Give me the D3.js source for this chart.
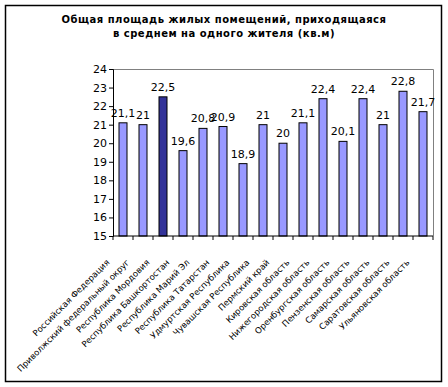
<!DOCTYPE html>
<html>
<head>
<meta charset="utf-8">
<script src="https://cdn.jsdelivr.net/npm/d3@7"></script>
<style>
  body { margin: 0; background: #fff; }
  text { font-family: "DejaVu Sans", Verdana, sans-serif; }
</style>
</head>
<body>
<div id="chart"></div>
<script>
// regions and values (кв.м на жителя)
var regions = [
    "Российская Федерация",
    "Приволжский федеральный округ",
    "Республика Мордовия",
    "Республика Башкортостан",
    "Республика Марий Эл",
    "Республика Татарстан",
    "Удмуртская Республика",
    "Чувашская Республика",
    "Пермский край",
    "Кировская область",
    "Нижегородская область",
    "Оренбургская область",
    "Пензенская область",
    "Самарская область",
    "Саратовская область",
    "Ульяновская область"
];
var values = [21.1, 21, 22.5, 19.6, 20.8, 20.9, 18.9, 21, 20, 21.1, 22.4, 20.1, 22.4, 21, 22.8, 21.7];
var highlighted = "Республика Мордовия";
var yTicks = [15, 16, 17, 18, 19, 20, 21, 22, 23, 24];
var titleLines = ["Общая площадь жилых помещений, приходящаяся", "в среднем на одного жителя (кв.м)"];

var W = 448, H = 387;
var margin = {top: 69, right: 15, bottom: 151, left: 113};
var width = 433 - margin.left;
var height = 236 - margin.top;

var svg = d3.select("#chart").append("svg")
    .attr("width", W)
    .attr("height", H);

// outer frame
svg.append("rect")
    .attr("x", 5.5).attr("y", 5.5)
    .attr("width", 436).attr("height", 376)
    .attr("fill", "#fff")
    .attr("stroke", "#000")
    .attr("stroke-width", 1.5);

svg.append("g")
    .selectAll("text")
    .data(titleLines)
    .enter().append("text")
    .attr("x", 224)
    .attr("y", (d, i) => 23 + i * 14)
    .attr("text-anchor", "middle")
    .attr("font-size", "10px")
    .attr("font-weight", "bold")
    .attr("letter-spacing", "0.5px")
    .text(d => d);

var plot = svg.append("g")
    .attr("transform", `translate(${margin.left},${margin.top})`);

var x = d3.scaleBand().domain(regions).range([0, width]).paddingInner(0.6).paddingOuter(0.3);
var y = d3.scaleLinear().domain([15, 24]).range([height, 0]);

// plot area border (top and right, grey)
plot.append("path")
    .attr("d", `M0,0.5H${width + 0.5}V${height}`)
    .attr("fill", "none")
    .attr("stroke", "#808080");

plot.selectAll(".bar")
    .data(regions)
    .enter().append("rect")
    .attr("class", "bar")
    .attr("x", d => x(d))
    .attr("width", x.bandwidth())
    .attr("y", (d, i) => y(values[i]))
    .attr("height", (d, i) => height - y(values[i]))
    .attr("fill", d => d === highlighted ? "#333399" : "#9999ff")
    .attr("stroke", "#000")
    .attr("stroke-width", 1);

plot.selectAll(".val")
    .data(regions)
    .enter().append("text")
    .attr("class", "val")
    .attr("x", d => x(d) + x.bandwidth() / 2)
    .attr("y", (d, i) => y(values[i]) - 6)
    .attr("text-anchor", "middle")
    .attr("font-size", "11px")
    .text((d, i) => String(values[i]).replace(".", ","));

// y axis
var yAxis = d3.axisLeft(y).tickValues(yTicks).tickSize(4).tickFormat(d3.format("d"));
var gy = plot.append("g").call(yAxis);
gy.select(".domain").attr("stroke", "#000");
gy.selectAll("text").attr("font-size", "11px").attr("font-family", "DejaVu Sans, sans-serif").attr("fill", "#000").attr("x", -6);

// x axis with ticks between categories
var step = width / regions.length;
var gx = plot.append("g").attr("transform", `translate(0,${height})`);
gx.append("line").attr("x1", 0).attr("x2", width).attr("stroke", "#000");
gx.selectAll(".tk")
    .data(d3.range(regions.length + 1))
    .enter().append("line")
    .attr("class", "tk")
    .attr("x1", d => d * step).attr("x2", d => d * step)
    .attr("y1", 0).attr("y2", 4)
    .attr("stroke", "#000");

gx.selectAll(".lbl")
    .data(regions)
    .enter().append("text")
    .attr("class", "lbl")
    .attr("transform", d => `translate(${x(d) + x.bandwidth() / 2 - 13},${27}) rotate(-45)`)
    .attr("text-anchor", "end")
    .attr("font-size", "8.5px")
    .text(d => d);
</script>
</body>
</html>
